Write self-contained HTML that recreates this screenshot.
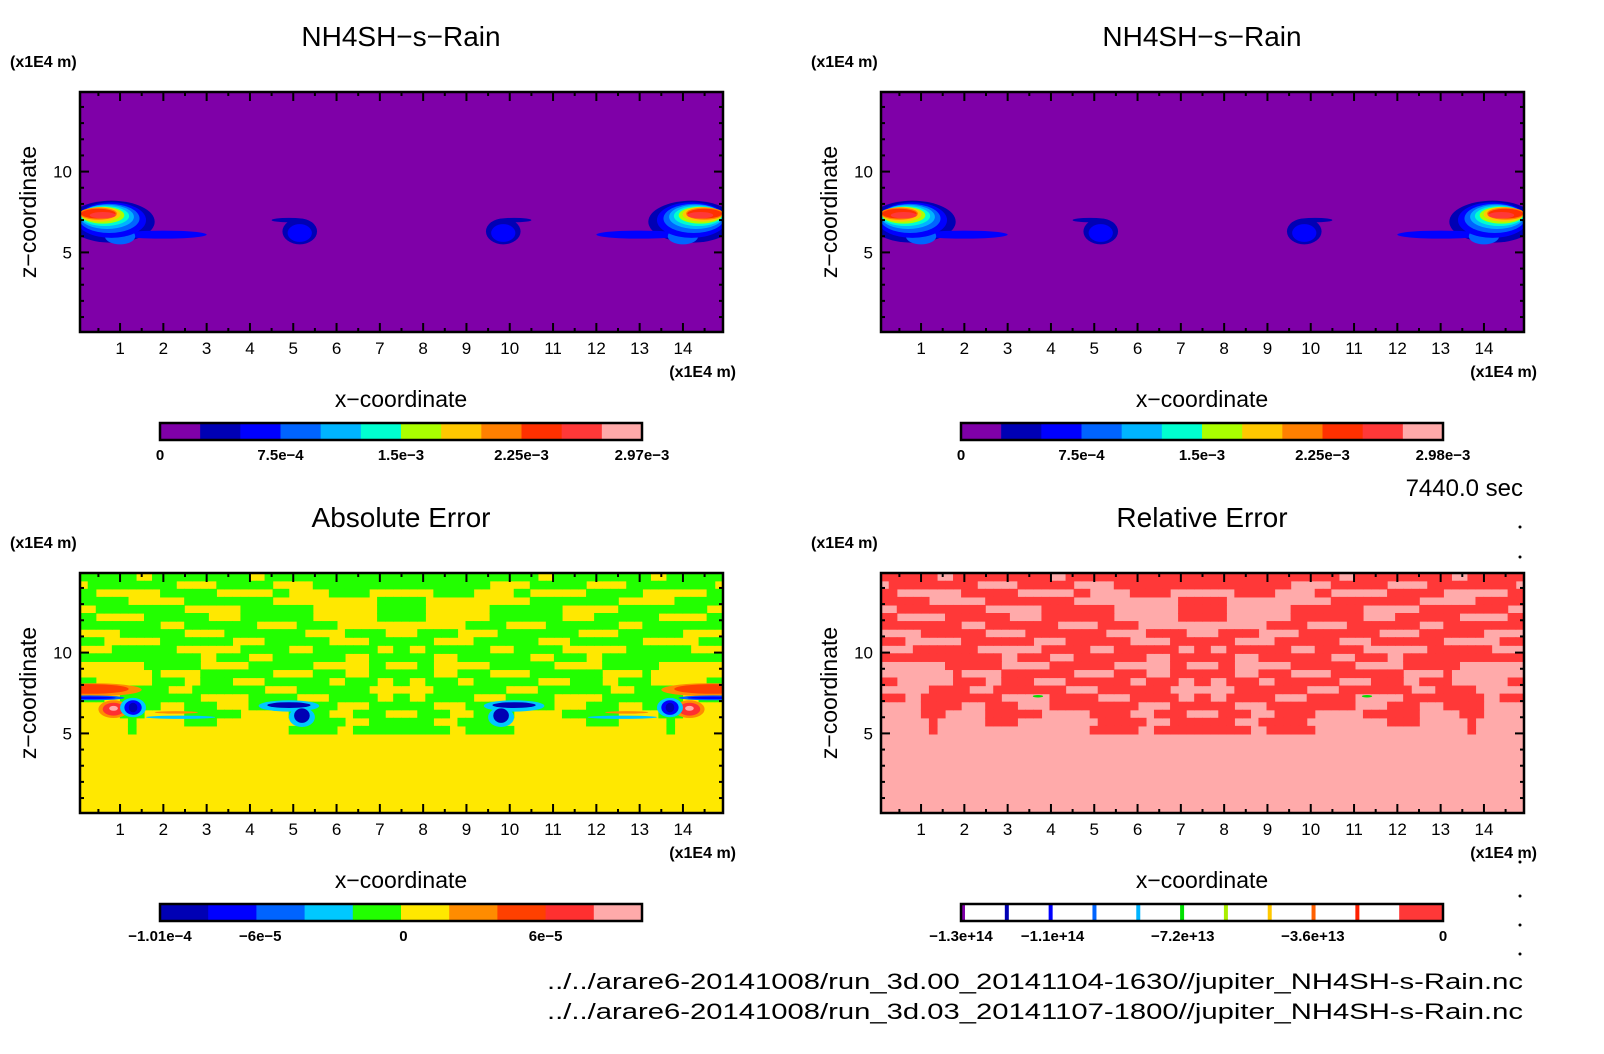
<!DOCTYPE html>
<html><head><meta charset="utf-8"><style>
html,body{margin:0;padding:0;background:#fff}
svg{display:block}
text{font-family:"Liberation Sans",sans-serif;fill:#000}
</style></head><body>
<svg id="fig" width="1604" height="1054" viewBox="0 0 1604 1054" xmlns="http://www.w3.org/2000/svg">
<rect x="0" y="0" width="1604" height="1054" fill="#fff"/>
<text x="1523" y="496" text-anchor="end" font-size="24">7440.0 sec</text>
<text x="1523" y="989" text-anchor="end" font-size="22" textLength="976" lengthAdjust="spacingAndGlyphs">../../arare6-20141008/run_3d.00_20141104-1630//jupiter_NH4SH-s-Rain.nc</text>
<text x="1523" y="1019" text-anchor="end" font-size="22" textLength="976" lengthAdjust="spacingAndGlyphs">../../arare6-20141008/run_3d.03_20141107-1800//jupiter_NH4SH-s-Rain.nc</text>
<g>
<circle cx="1520" cy="527" r="1.5" fill="#000"/><circle cx="1520" cy="557" r="1.5" fill="#000"/>
<circle cx="1520" cy="862" r="1.5" fill="#000"/><circle cx="1520" cy="896" r="1.5" fill="#000"/>
<circle cx="1520" cy="925" r="1.5" fill="#000"/><circle cx="1520" cy="954" r="1.5" fill="#000"/>
</g>
</svg>
<script>
// ---- data ----
const xTicks = [1,2,3,4,5,6,7,8,9,10,11,12,13,14];
const zTicks = [5,10];
const xDomain = [0.075, 14.925];
const zDomain = [0.075, 14.925];
const topColors = ['#7f00a8','#0000b4','#0000ff','#0064ff','#00b4ff','#00ffd0','#aaff00','#ffc800','#ff8000','#ff3000','#ff3838','#ffaaaa'];
const absColors = ['#0000b4','#0000ff','#0064ff','#00c8ff','#22ff00','#ffe800','#ff8c00','#ff4000','#ff3030','#ffaaaa'];
const relColors = ['#7f00a8','#0000b4','#0000ff','#0064ff','#00b4ff','#00e000','#aaee00','#ffc800','#ff6000','#ff2000','#ff3838'];
const topLabels1 = ['0','7.5e-4','1.5e-3','2.25e-3','2.97e-3'];
const topLabels2 = ['0','7.5e-4','1.5e-3','2.25e-3','2.98e-3'];
const topLabelFrac = [0,0.25,0.5,0.75,1];
const absLabels = ['-1.01e-4','-6e-5','0','6e-5'];
const absLabelFrac = [0,0.208,0.505,0.8];
const relLabels = ['-1.3e+14','-1.1e+14','-7.2e+13','-3.6e+13','0'];
const relLabelFrac = [0,0.19,0.46,0.73,1];
// cloud features (left half, mirrored about domain center): x, z, rx, rz, level
const rainX =  [0.8,2.0,1.0,0.8,0.75,0.7,0.65,0.6,0.55,0.5,0.5,0.6,5.15,5.15,4.9];
const rainZ =  [6.9,6.1,6.0,7.0,7.1,7.2,7.25,7.3,7.35,7.4,7.4,7.3,6.3,6.2,7.0];
const rainRx = [1.0,1.0,0.35,0.8,0.7,0.62,0.56,0.5,0.46,0.43,0.4,0.3,0.4,0.28,0.4];
const rainRz = [1.3,0.25,0.5,1.1,0.9,0.75,0.62,0.52,0.45,0.38,0.3,0.2,0.8,0.55,0.14];
const rainLv = [1,2,3,2,3,4,5,6,7,8,9,10,1,2,1];
const absX =  [0.4,0.3,0.3,0.3,0.85,0.85,0.85,1.3,1.3,1.3,2.4,2.3,4.9,5.2,4.9,5.2];
const absZ =  [7.7,7.75,7.2,7.2,6.5,6.5,6.55,6.6,6.6,6.6,6.0,6.3,6.7,6.0,6.75,6.1];
const absRx = [1.1,0.9,0.8,0.6,0.35,0.25,0.1,0.3,0.2,0.1,0.8,0.5,0.7,0.3,0.5,0.18];
const absRz = [0.4,0.3,0.15,0.08,0.55,0.4,0.15,0.6,0.45,0.3,0.1,0.08,0.35,0.6,0.18,0.45];
const absLv = [6,7,2,1,6,8,9,3,1,0,3,6,3,3,0,0];
const relX = [3.7]; const relZ = [7.3]; const relRx = [0.12]; const relRz = [0.08]; const relLv = [5];
// error sign grid (left half, 40 cols x 20 rows from top z=14.925 to z=4.95), mirrored
const errGrid = [
"1111111001111111111110011111111111111111",
"0111111111110000011111110000011111111111",
"1100000000111111100000001100000111110000",
"1111110000000111111111110000000000000111",
"0011111111111000000011111111100000000111",
"1100000011111111000011111111100000000111",
"1111111111000111111111000001111100000000",
"0000011111111000001111111111000001111100",
"1110000000111111111000011111111000001111",
"0000111111110000000011111100011111111001",
"1111111111111110011110001111111110001111",
"0000000011111110000001111111100000001100",
"0000000001000001111111110000011110001111",
"1100000001111001111000011111111001111001",
"0000001111100011111111100001111111110000",
"1110011111111110000001111110000111111001",
"0000011111000111100001111111111100001111",
"0000011100000111111100000011111000111100",
"0000001000000111100000000001111110001111",
"0000001000000000000000000011111100111111"];
const gridZTop = 14.925, gridZBottom = 4.95;

const NS='http://www.w3.org/2000/svg';
const svg=document.getElementById('fig');
function el(tag,attrs,parent){const e=document.createElementNS(NS,tag);for(const k in attrs)e.setAttribute(k,attrs[k]);(parent||svg).appendChild(e);return e;}
function txt(s,attrs,parent){const e=el('text',attrs,parent);e.textContent=s;return e;}

const PW=643, PH=240;
function makePanel(id,L,T,title,drawFn){
  const g=el('g',{});
  
  
  const xs=v=>L+(v-xDomain[0])/(xDomain[1]-xDomain[0])*PW;
  const zs=v=>T+(zDomain[1]-v)/(zDomain[1]-zDomain[0])*PH;
  const cp=el('clipPath',{id:'clip-'+id},g);
  el('rect',{x:L,y:T,width:PW,height:PH},cp);
  const plot=el('g',{'clip-path':'url(#clip-'+id+')'},g);
  
  
  drawFn(plot,xs,zs);
  const fr=el('rect',{x:L,y:T,width:PW,height:PH,fill:'none',stroke:'#000','stroke-width':2.5},g);
  
  
  for(let v=0.5;v<15;v+=0.5){
    const major=Math.abs(v-Math.round(v))<1e-6;
    const len=major?9:4;const x=xs(v);
    el('line',{x1:x,y1:T+PH,x2:x,y2:T+PH-len,stroke:'#000','stroke-width':2},g);
    el('line',{x1:x,y1:T,x2:x,y2:T+len,stroke:'#000','stroke-width':2},g);
  }
  for(let v=1;v<15;v+=1){
    const major=zTicks.includes(v);const len=major?9:4;const y=zs(v);
    el('line',{x1:L,y1:y,x2:L+len,y2:y,stroke:'#000','stroke-width':2},g);
    el('line',{x1:L+PW,y1:y,x2:L+PW-len,y2:y,stroke:'#000','stroke-width':2},g);
  }
  xTicks.forEach(v=>{
    const t=txt(String(v),{x:xs(v),y:T+262,'text-anchor':'middle','font-size':17},g);
    
    
  });
  zTicks.forEach(v=>{
    const t=txt(String(v),{x:L-8,y:zs(v)+6,'text-anchor':'end','font-size':17},g);
    
    
  });
  const tt=txt(title,{x:L+321,y:T-46,'text-anchor':'middle','font-size':28},g);
  
  
  const u1=txt('(x1E4 m)',{x:L-70,y:T-25,'font-size':16,'font-weight':'bold'},g);
  
  
  const u2=txt('(x1E4 m)',{x:L+656,y:T+285,'text-anchor':'end','font-size':16,'font-weight':'bold'},g);
  
  
  const xl=txt('x\u2212coordinate',{x:L+321,y:T+315,'text-anchor':'middle','font-size':23},g);
  
  
  const zl=txt('z\u2212coordinate',{x:0,y:0,'text-anchor':'middle','font-size':23,transform:'translate('+(L-44)+','+(T+120)+') rotate(-90)'},g);
  
  
  return {g,xs,zs};
}
function drawFeatures(plot,xs,zs,X,Z,RX,RZ,LV,colors){
  const c=(xDomain[0]+xDomain[1])/2;
  for(let i=0;i<X.length;i++){
    [X[i],2*c-X[i]].forEach(x=>{
      const e=el('ellipse',{cx:xs(x),cy:zs(Z[i]),rx:Math.abs(xs(RX[i])-xs(0)),ry:Math.abs(zs(0)-zs(RZ[i])),fill:colors[LV[i]]},plot);
      
      
    });
  }
}
function drawGrid(plot,xs,zs,color){
  const cols=errGrid[0].length, rows=errGrid.length;
  const half=(xDomain[1]-xDomain[0])/2;
  const dx=half/cols, dz=(gridZTop-gridZBottom)/rows;
  for(let r=0;r<rows;r++){
    for(let c=0;c<cols;c++){
      if(errGrid[r][c]!=='1')continue;
      const x0=xDomain[0]+c*dx, x1=xDomain[1]-(c+1)*dx;
      const z=gridZTop-r*dz;
      [x0,x1].forEach(x=>{
        const e=el('rect',{x:xs(x)-0.3,y:zs(z)-0.3,width:xs(x+dx)-xs(x)+0.6,height:zs(z-dz)-zs(z)+0.6,fill:color},plot);
        
        
      });
    }
  }
}
function colorbar(id,L,T,colors,labels,fracs,mode){
  const W=482,H=17;const g=el('g',{});
  
  
  const n=colors.length, sw=W/n;
  if(mode==='lines'){
    el('rect',{x:L,y:T,width:W,height:H,fill:'#fff'},g);
    for(let i=0;i<n-1;i++) el('rect',{x:L+i*sw,y:T,width:4,height:H,fill:colors[i]},g);
    el('rect',{x:L+(n-1)*sw,y:T,width:sw,height:H,fill:colors[n-1]},g);
  } else {
    colors.forEach((c,i)=>el('rect',{x:L+i*sw,y:T,width:sw+0.5,height:H,fill:c},g));
  }
  el('rect',{x:L,y:T,width:W,height:H,fill:'none',stroke:'#000','stroke-width':2.5},g);
  labels.forEach((s,i)=>{
    const t=txt(s.replace(/-/g,'\u2212'),{x:L+fracs[i]*W,y:T+H+20,'text-anchor':'middle','font-size':15,'font-weight':'bold'},g);
    
    
  });
}
makePanel('rain-run0',80,92,'NH4SH\u2212s\u2212Rain',(p,xs,zs)=>{
  el('rect',{x:0,y:0,width:1604,height:1054,fill:topColors[0]},p);
  drawFeatures(p,xs,zs,rainX,rainZ,rainRx,rainRz,rainLv,topColors);
});
makePanel('rain-run3',881,92,'NH4SH\u2212s\u2212Rain',(p,xs,zs)=>{
  el('rect',{x:0,y:0,width:1604,height:1054,fill:topColors[0]},p);
  drawFeatures(p,xs,zs,rainX,rainZ,rainRx,rainRz,rainLv,topColors);
});
makePanel('absolute-error',80,573,'Absolute Error',(p,xs,zs)=>{
  el('rect',{x:0,y:0,width:1604,height:1054,fill:absColors[5]},p);
  drawGrid(p,xs,zs,absColors[4]);
  drawFeatures(p,xs,zs,absX,absZ,absRx,absRz,absLv,absColors);
});
makePanel('relative-error',881,573,'Relative Error',(p,xs,zs)=>{
  el('rect',{x:0,y:0,width:1604,height:1054,fill:'#ffaaaa'},p);
  drawGrid(p,xs,zs,'#ff3838');
  drawFeatures(p,xs,zs,relX,relZ,relRx,relRz,relLv,relColors);
});
colorbar('rain-run0',160,423,topColors,topLabels1,topLabelFrac);
colorbar('rain-run3',961,423,topColors,topLabels2,topLabelFrac);
colorbar('absolute-error',160,904,absColors,absLabels,absLabelFrac);
colorbar('relative-error',961,904,relColors,relLabels,relLabelFrac,'lines');
</script>
</body></html>
